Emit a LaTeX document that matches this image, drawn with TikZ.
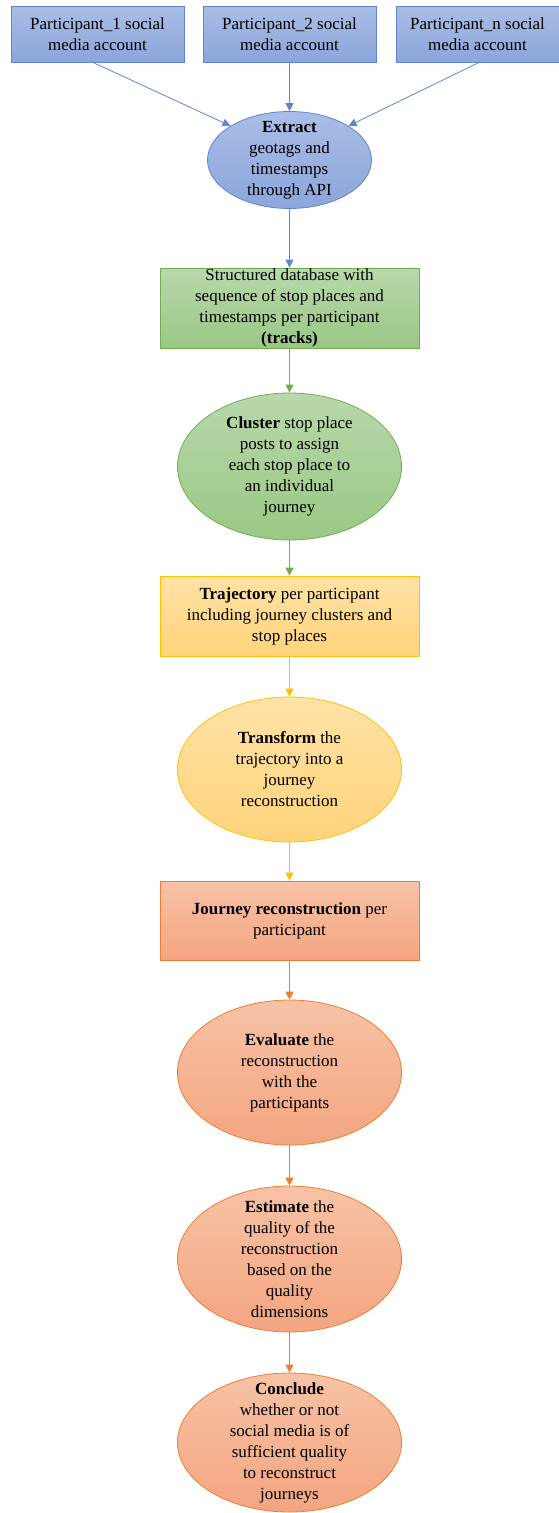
\documentclass[tikz,border=0pt]{standalone}
\usepackage{fontspec}
\setmainfont{Liberation Serif}
\usetikzlibrary{shapes.geometric,arrows.meta}
\definecolor{bTop}{HTML}{AABDE5}
\definecolor{bBot}{HTML}{8CA5DB}
\definecolor{bLine}{HTML}{5F86CC}
\definecolor{gTop}{HTML}{B8D8AB}
\definecolor{gBot}{HTML}{9AC884}
\definecolor{gLine}{HTML}{72AE4C}
\definecolor{yTop}{HTML}{FFE2A6}
\definecolor{yBot}{HTML}{FFD37A}
\definecolor{yLine}{HTML}{FFC000}
\definecolor{oTop}{HTML}{F7C2A6}
\definecolor{oBot}{HTML}{F4A580}
\definecolor{oLine}{HTML}{ED7D31}
\begin{document}
\begin{tikzpicture}[x=1pt,y=-1pt,
  every node/.style={font=\fontsize{17}{21}\selectfont, align=center, inner sep=0pt, text=black},
  box/.style={rectangle, draw=#1Line, line width=0.8pt, top color=#1Top, bottom color=#1Bot},
  ell/.style={ellipse, draw=#1Line, line width=0.8pt, top color=#1Top, bottom color=#1Bot},
  arr/.style={draw=#1Line, line width=1.3pt, -{Triangle[length=8pt,width=8pt]}},
  thinarr/.style={draw=#1Line, line width=0.8pt, -{Triangle[length=8pt,width=8pt]}}
]
\useasboundingbox (0,0) rectangle (559,1513);

\node[box=b, minimum width=173pt, minimum height=56pt] (p1) at (97.5,34) {Participant\_1 social\\media account};
\node[box=b, minimum width=173pt, minimum height=56pt] (p2) at (289.5,34) {Participant\_2 social\\media account};
\node[box=b, minimum width=163pt, minimum height=56pt] (p3) at (477.5,34) {Participant\_n social\\media account};

\node[ell=b, minimum width=164pt, minimum height=97pt] (e1) at (289.5,160) {};
\node (t1) at (e1.center) {\textbf{Extract}\\geotags and\\timestamps\\through API};

\node[box=g, minimum width=259pt, minimum height=80pt] (g) at (289.5,308) {Structured database with\\sequence of stop places and\\timestamps per participant\\\textbf{(tracks)}};

\node[ell=g, minimum width=224pt, minimum height=147pt] (e2) at (289.5,466.5) {};
\node (t2) at (e2.center) {\textbf{Cluster} stop place\\posts to assign\\each stop place to\\an individual\\journey};

\node[box=y, minimum width=259pt, minimum height=80pt] (y) at (289.5,616) {\textbf{Trajectory} per participant\\including journey clusters and\\stop places};

\node[ell=y, minimum width=224pt, minimum height=145pt] (e3) at (289.5,769.5) {};
\node (t3) at (e3.center) {\textbf{Transform} the\\trajectory into a\\journey\\reconstruction};

\node[box=o, minimum width=259pt, minimum height=79pt] (r) at (289.5,920.5) {\textbf{Journey reconstruction} per\\participant};

\node[ell=o, minimum width=224pt, minimum height=145pt] (e4) at (289.5,1072.5) {};
\node (t4) at (e4.center) {\textbf{Evaluate} the\\reconstruction\\with the\\participants};

\node[ell=o, minimum width=224pt, minimum height=146pt] (e5) at (289.5,1259) {};
\node (t5) at (e5.center) {\textbf{Estimate} the\\quality of the\\reconstruction\\based on the\\quality\\dimensions};

\node[ell=o, minimum width=224pt, minimum height=139pt] (e6) at (289.5,1442.5) {};
\node (t6) at (e6.center) {\textbf{Conclude}\\whether or not\\social media is of\\sufficient quality\\to reconstruct\\journeys};

\coordinate (p1b) at (92,62);
\coordinate (p3b) at (480,62);
\draw[thinarr=b] (p1b) -- (e1.150);
\draw[arr=b] (p2.south) -- (e1.north);
\draw[thinarr=b] (p3b) -- (e1.30);
\draw[arr=b] (e1.south) -- (g.north);
\draw[arr=g] (g.south) -- (e2.north);
\draw[arr=g] (e2.south) -- (y.north);
\draw[arr=y] (y.south) -- (e3.north);
\draw[arr=y] (e3.south) -- (r.north);
\draw[arr=o] (r.south) -- (e4.north);
\draw[arr=o] (e4.south) -- (e5.north);
\draw[arr=o] (e5.south) -- (e6.north);
\end{tikzpicture}
\end{document}
